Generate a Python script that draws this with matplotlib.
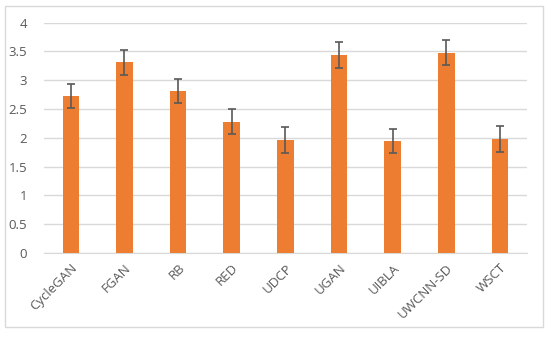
import matplotlib.pyplot as plt
from matplotlib.patches import Rectangle

methods = ["CycleGAN", "FGAN", "RB", "RED", "UDCP", "UGAN", "UIBLA", "UWCNN-SD", "WSCT"]
scores = [2.73, 3.31, 2.81, 2.28, 1.96, 3.44, 1.94, 3.48, 1.98]
errors = [0.21, 0.22, 0.21, 0.22, 0.22, 0.22, 0.21, 0.22, 0.22]
yticks = [0, 0.5, 1, 1.5, 2, 2.5, 3, 3.5, 4]

plt.rcParams['font.family'] = ['Open Sans', 'DejaVu Sans']

fig = plt.figure(figsize=(5.5, 3.37), dpi=100)
ax = fig.add_axes([0.08, 0.249, 0.878, 0.684])

# outer chart frame
fig.patches.append(Rectangle((5 / 550, 1 - 327 / 337), 538 / 550, 321 / 337,
                             transform=fig.transFigure, fill=False,
                             edgecolor='#d9d9d9', linewidth=1))

x = range(len(methods))
ax.bar(x, scores, width=0.31, color='#ED7D31', zorder=3)
ax.errorbar(x, scores, yerr=errors, fmt='none', ecolor='#595959',
            elinewidth=1.2, capsize=3, capthick=1.2, zorder=4)

ax.set_xlim(-0.5, len(methods) - 0.5)
ax.set_ylim(0, 4)
ax.set_yticks(yticks)
ax.set_yticklabels([f"{v:g}" for v in yticks])
ax.set_xticks(list(x))
ax.set_xticklabels(methods, rotation=45, ha='right', rotation_mode='anchor')
ax.tick_params(axis='both', length=0, colors='#595959', labelsize=9.5)
ax.tick_params(axis='y', pad=12)
ax.tick_params(axis='x', pad=6)

ax.grid(axis='y', color='#d9d9d9', linewidth=1, zorder=0)
for s in ['top', 'right', 'left']:
    ax.spines[s].set_visible(False)
ax.spines['bottom'].set_color('#d9d9d9')

fig.savefig('out.png', dpi=100)
